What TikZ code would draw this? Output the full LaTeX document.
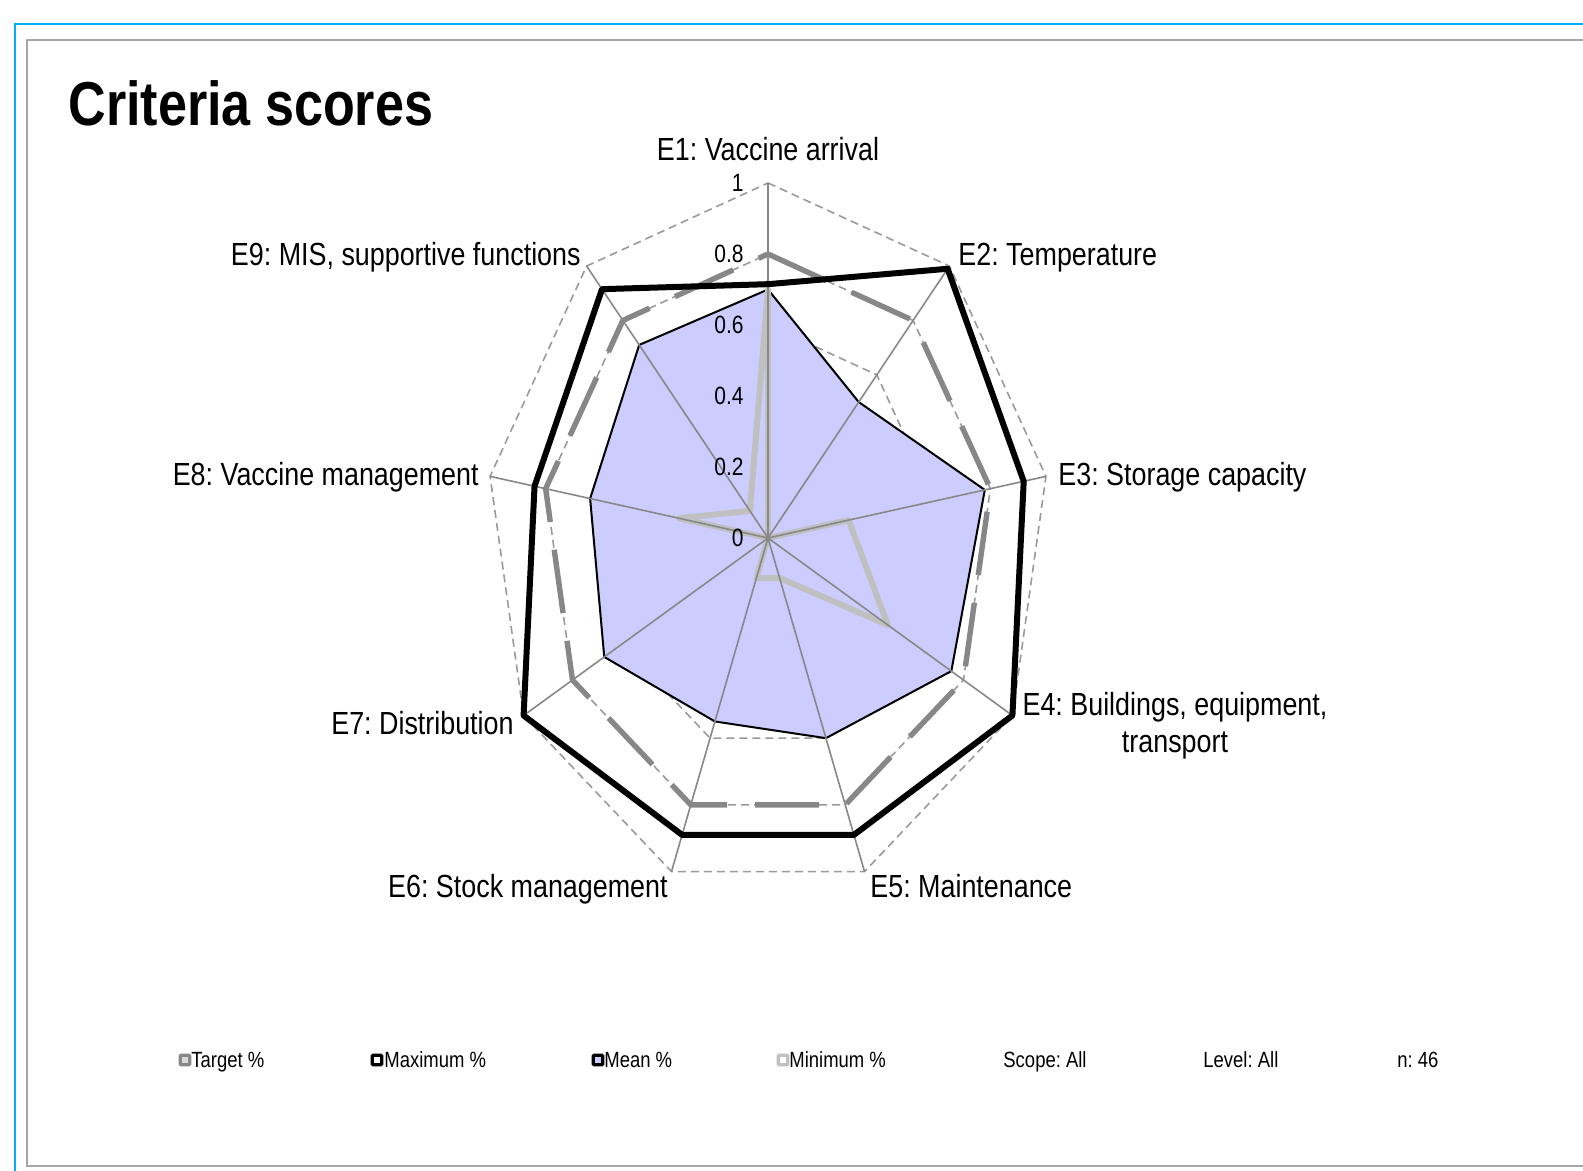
\documentclass[tikz,border=0pt]{standalone}
\usepackage{fontspec}
\setmainfont{Liberation Sans}[FakeStretch=0.84]
\frenchspacing

\definecolor{frameblue}{HTML}{00B0F0}
\definecolor{framegray}{HTML}{A6A6A6}
\definecolor{gridgray}{HTML}{9A9A9A}
\definecolor{spokegray}{HTML}{888888}
\definecolor{targetgray}{HTML}{878787}
\definecolor{mingray}{HTML}{C0C0C0}
\definecolor{meanfill}{HTML}{CCCCFF}

% points of one series: name, nine values (E1 ... E9)
\newcommand\radarpts[2]{%
  \foreach \v [count=\k] in {#2}
    \coordinate (#1\k) at ({\cx+\xs*\r*\v*cos(130-40*\k)},{\cy-\r*\v*sin(130-40*\k)});}
\newcommand\radarring[1]{(#11) \foreach \k in {2,...,9} {-- (#1\k)} -- cycle}

\begin{document}
\begin{tikzpicture}[x=0.5pt, y=-0.5pt,
  blueframe/.style={draw=frameblue, line width=1pt},
  grayframe/.style={draw=framegray, line width=1pt},
  gridline/.style={draw=gridgray, line width=0.8pt, dash pattern=on 4pt off 2.5pt},
  spoke/.style={draw=spokegray, line width=0.8pt},
  meanline/.style={draw=black, line width=1pt, line join=round},
  targetline/.style={draw=targetgray, line width=2.7pt, line join=round, dash pattern=on 32pt off 14pt},
  maxline/.style={draw=black, line width=3pt, line join=round},
  minline/.style={draw=mingray, line width=3pt, line join=round},
  axislabel/.style={inner sep=0pt, font=\fontsize{16}{18.3}\selectfont},
  ticklabel/.style={inner sep=0pt, anchor=east, font=\fontsize{12.5}{14}\selectfont},
  legmark/.style={line width=1.6pt, minimum size=4.8pt, inner sep=0pt, rounded corners=0.5pt},
  legtext/.style={inner sep=0pt, anchor=base west, font=\fontsize{11}{13}\selectfont}]

\useasboundingbox (0,0) rectangle (1583,1171);

\pgfmathsetmacro{\cx}{768}
\pgfmathsetmacro{\cy}{538}
\pgfmathsetmacro{\r}{355}
\pgfmathsetmacro{\xs}{0.795}

% frames
\draw[blueframe] (15,1171) -- (15,24) -- (1583,24);
\draw[grayframe] (1583,1166) -- (27,1166) -- (27,40) -- (1583,40);

\node[anchor=base west, inner sep=0pt, font=\bfseries\fontsize{31}{36}\selectfont] (title) at (68,126) {Criteria scores};

\coordinate (o) at (\cx,\cy);
\radarpts{out}{1,1,1,1,1,1,1,1,1}
\radarpts{target}{0.8,0.8,0.8,0.8,0.8,0.8,0.8,0.8,0.8}
\radarpts{max}{0.715,0.99,0.92,1,0.89,0.89,1,0.84,0.915}
\radarpts{mean}{0.70,0.50,0.78,0.75,0.60,0.55,0.67,0.64,0.71}
\radarpts{min}{0.70,0,0.29,0.49,0.12,0.12,0,0.32,0.10}

% grid rings
\foreach \g in {0.2,0.4,0.6,0.8,1}
  \draw[gridline] (\cx,{\cy-\r*\g})
    \foreach \k in {2,...,9} {-- ({\cx+\xs*\r*\g*cos(130-40*\k)},{\cy-\r*\g*sin(130-40*\k)})} -- cycle;

\fill[meanfill] \radarring{mean};
\draw[meanline] \radarring{mean};
\draw[targetline] \radarring{target};
\draw[minline] \radarring{min};
\foreach \k in {1,...,9}
  \draw[spoke] (o) -- (out\k);
\draw[maxline] \radarring{max};

% scale
\foreach \t [count=\i] in {0,0.2,0.4,0.6,0.8,1}
  \node[ticklabel] (tick\i) at (744,{\cy-\r*\t}) {\t};

% criteria
\node[axislabel, anchor=base] (e1) at (768,161) {E1: Vaccine arrival};
\node[axislabel, anchor=base west] (e2) at (958,266) {E2: Temperature};
\node[axislabel, anchor=base west] (e3) at (1058,485) {E3: Storage capacity};
\node[axislabel, anchor=north, align=center] (e4) at (1175,692) {E4: Buildings, equipment,\\transport};
\node[axislabel, anchor=base west] (e5) at (870,897) {E5: Maintenance};
\node[axislabel, anchor=base east] (e6) at (668,897) {E6: Stock management};
\node[axislabel, anchor=base east] (e7) at (514,734) {E7: Distribution};
\node[axislabel, anchor=base east] (e8) at (479,485) {E8: Vaccine management};
\node[axislabel, anchor=base east] (e9) at (581,266) {E9: MIS, supportive functions};

% legend
\node[legmark, draw=targetgray, fill=mingray!60] (mk1) at (185,1060) {};
\node[legtext] (lg1) at (191,1067) {Target \%};
\node[legmark, draw=black, fill=white] (mk2) at (377,1060) {};
\node[legtext] (lg2) at (384,1067) {Maximum \%};
\node[legmark, draw=black, fill=meanfill] (mk3) at (598,1060) {};
\node[legtext] (lg3) at (604,1067) {Mean \%};
\node[legmark, draw=mingray, fill=white] (mk4) at (783,1060) {};
\node[legtext] (lg4) at (789,1067) {Minimum \%};
\node[legtext] (scope) at (1003,1067) {Scope: All};
\node[legtext] (level) at (1203,1067) {Level: All};
\node[legtext] (count) at (1397,1067) {n: 46};
\end{tikzpicture}
\end{document}
